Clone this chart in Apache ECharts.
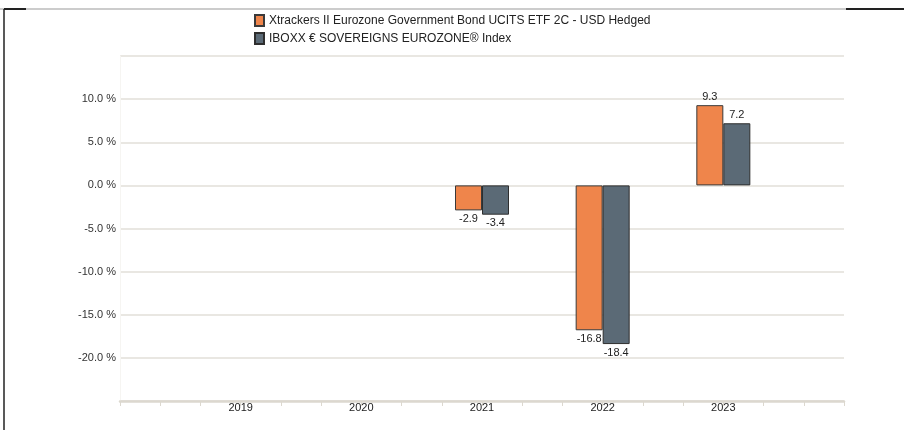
<!DOCTYPE html>
<html>
<head>
<meta charset="utf-8">
<script src="https://cdn.jsdelivr.net/npm/echarts@6/dist/echarts.min.js"></script>
<style>
html,body{margin:0;padding:0;background:#fff;}
#chart{width:904px;height:430px;}
</style>
</head>
<body>
<div id="chart"></div>
<script>
var years = [2019, 2020, 2021, 2022, 2023];
var seriesNames = ['Xtrackers II Eurozone Government Bond UCITS ETF 2C - USD Hedged', 'IBOXX € SOVEREIGNS EUROZONE® Index'];
var fundValues = [null, null, -2.9, -16.8, 9.3];
var indexValues = [null, null, -3.4, -18.4, 7.2];
var yTicks = [-25, -20, -15, -10, -5, 0, 5, 10, 15];

function toData(vals) {
  var out = [];
  for (var i = 0; i < years.length; i++) {
    if (vals[i] === null) continue;
    out.push({
      value: [years[i], vals[i]],
      label: { position: vals[i] >= 0 ? 'top' : 'bottom' }
    });
  }
  return out;
}

var chart = echarts.init(document.getElementById('chart'));
var font = 'Liberation Sans, Arial, Helvetica, sans-serif';
var option = {
  animation: false,
  textStyle: { fontFamily: font },
  legend: {
    orient: 'vertical',
    left: 249,
    top: 9,
    itemWidth: 9,
    itemHeight: 11,
    itemGap: 5,
    icon: 'rect',
    textStyle: { fontSize: 12, color: '#222', fontFamily: font },
    data: seriesNames
  },
  graphic: [
    { type: 'line', shape: { x1: 0, y1: 9, x2: 904, y2: 9 }, style: { stroke: '#999', lineWidth: 1 } },
    { type: 'line', shape: { x1: 4, y1: 9, x2: 26, y2: 9 }, style: { stroke: '#222', lineWidth: 2 } },
    { type: 'line', shape: { x1: 846, y1: 9, x2: 904, y2: 9 }, style: { stroke: '#222', lineWidth: 2 } },
    { type: 'line', shape: { x1: 4, y1: 9, x2: 4, y2: 430 }, style: { stroke: '#222', lineWidth: 1.5 } }
  ],
  grid: { left: 120, right: 60, top: 56, bottom: 29, containLabel: false },
  xAxis: {
    type: 'value',
    min: 2018,
    max: 2024,
    interval: 1,
    splitLine: { show: false },
    axisLine: { show: true, onZero: false, lineStyle: { color: '#dcd8cf', width: 2.5 } },
    axisTick: { show: true, length: 5, lineStyle: { color: '#dcd8cf', width: 1 } },
    minorTick: { show: true, splitNumber: 3, length: 5, lineStyle: { color: '#dcd8cf', width: 1 } },
    axisLabel: {
      showMinLabel: false,
      showMaxLabel: false,
      margin: 1,
      fontSize: 11,
      color: '#222',
      formatter: function (v) { return years.indexOf(v) >= 0 ? String(v) : ''; }
    }
  },
  yAxis: {
    type: 'value',
    min: yTicks[0],
    max: yTicks[yTicks.length - 1],
    interval: 5,
    axisLine: { show: true, onZero: false, lineStyle: { color: '#f6f5f2', width: 1 } },
    axisTick: { show: false },
    splitLine: { show: true, lineStyle: { color: '#e2dfd9', width: 1.5 } },
    axisLabel: {
      showMinLabel: false,
      showMaxLabel: false,
      margin: 4,
      fontSize: 11,
      color: '#333',
      formatter: function (v) { return v.toFixed(1) + ' %'; }
    }
  },
  series: [
    {
      name: seriesNames[0],
      type: 'bar',
      barWidth: 27,
      barGap: '0%',
      itemStyle: { color: '#ef854b', borderColor: '#3a3a3a', borderWidth: 1 },
      label: { show: true, distance: 3, fontSize: 11, color: '#222', formatter: function (p) { return p.value[1].toFixed(1); } },
      data: toData(fundValues)
    },
    {
      name: seriesNames[1],
      type: 'bar',
      barWidth: 27,
      barGap: '0%',
      itemStyle: { color: '#5b6a76', borderColor: '#2e2e2e', borderWidth: 1 },
      label: { show: true, distance: 3, fontSize: 11, color: '#222', formatter: function (p) { return p.value[1].toFixed(1); } },
      data: toData(indexValues)
    }
  ]
};
chart.setOption(option);
</script>
</body>
</html>
